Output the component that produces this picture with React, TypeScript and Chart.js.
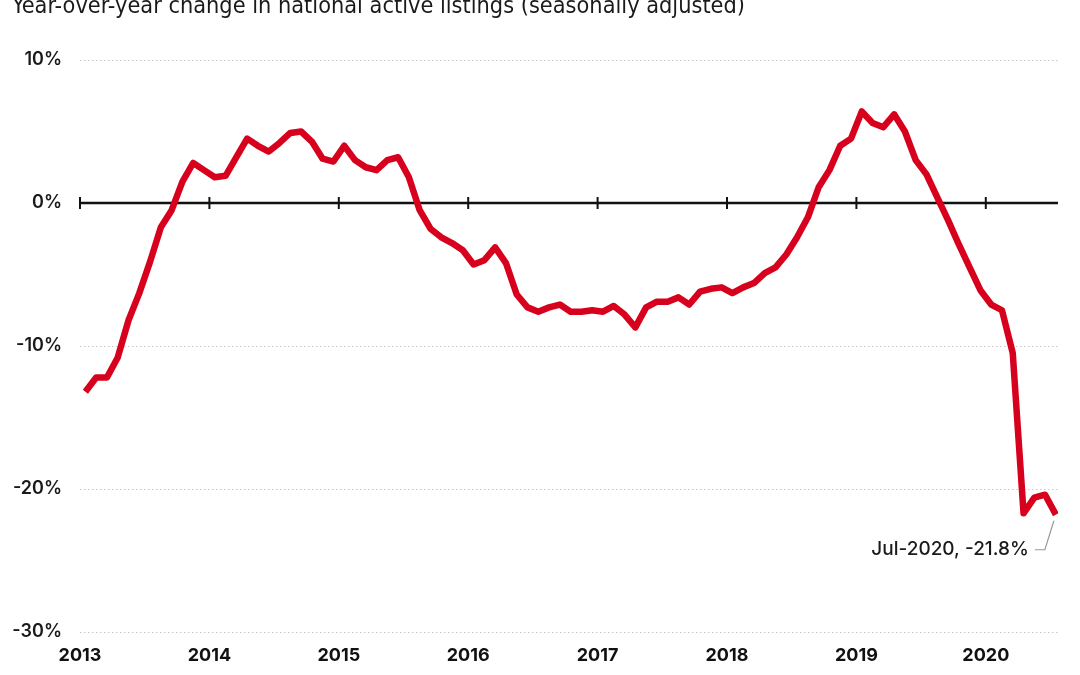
import React, { useEffect, useRef } from "react";
import { Chart, registerables } from "chart.js";

Chart.register(...registerables);

const TITLE = "Year-over-year change in national active listings (seasonally adjusted)";
const START_YEAR = 2013;
const yearTicks = [2013, 2014, 2015, 2016, 2017, 2018, 2019, 2020];
const yTicks = [-30, -20, -10, 0, 10];

const y2013 = [-13.2, -12.2, -12.2, -10.8, -8.2, -6.3, -4.1, -1.7, -0.5, 1.5, 2.8, 2.3];
const y2014 = [1.8, 1.9, 3.2, 4.5, 4.0, 3.6, 4.2, 4.9, 5.0, 4.3, 3.1, 2.9];
const y2015 = [4.0, 3.0, 2.5, 2.3, 3.0, 3.2, 1.8, -0.5, -1.8, -2.4, -2.8, -3.3];
const y2016 = [-4.3, -4.0, -3.1, -4.2, -6.4, -7.3, -7.6, -7.3, -7.1, -7.6, -7.6, -7.5];
const y2017 = [-7.6, -7.2, -7.8, -8.7, -7.3, -6.9, -6.9, -6.6, -7.1, -6.2, -6.0, -5.9];
const y2018 = [-6.3, -5.9, -5.6, -4.9, -4.5, -3.6, -2.4, -1.0, 1.1, 2.3, 4.0, 4.5];
const y2019 = [6.4, 5.6, 5.3, 6.2, 5.0, 3.0, 2.0, 0.4, -1.2, -2.9, -4.5, -6.1];
const y2020 = [-7.1, -7.5, -10.5, -21.7, -20.6, -20.4, -21.8];

const values = [...y2013, ...y2014, ...y2015, ...y2016, ...y2017, ...y2018, ...y2019, ...y2020];
const ANNOTATION = "Jul-2020, -21.8%";

const LABEL_FONT = "Inter, 'Open Sans', sans-serif";

export default function App() {
  const ref = useRef<HTMLCanvasElement | null>(null);

  useEffect(() => {
    if (!ref.current) return;
    const points = values.map((v, i) => ({ x: START_YEAR + (i + 0.5) / 12, y: v }));

    const zeroLinePlugin = {
      id: "zeroLine",
      beforeDatasetsDraw(chart: any) {
        const { ctx, chartArea, scales } = chart;
        const y0 = scales.y.getPixelForValue(0);
        ctx.save();
        ctx.strokeStyle = "#111";
        ctx.lineWidth = 2.5;
        ctx.beginPath();
        ctx.moveTo(chartArea.left, y0);
        ctx.lineTo(chartArea.right, y0);
        ctx.stroke();
        ctx.lineWidth = 2;
        yearTicks.forEach((yr) => {
          const x = scales.x.getPixelForValue(yr);
          ctx.beginPath();
          ctx.moveTo(x, y0 - 6);
          ctx.lineTo(x, y0 + 6);
          ctx.stroke();
        });
        ctx.restore();
      },
    };

    const textPlugin = {
      id: "texts",
      afterDraw(chart: any) {
        const { ctx } = chart;
        ctx.save();
        ctx.font = "23px 'Liberation Sans Narrow', 'DejaVu Sans Condensed', 'Liberation Sans', sans-serif";
        ctx.fillStyle = "#1a1a1a";
        ctx.textBaseline = "alphabetic";
        ctx.textAlign = "left";
        const w = ctx.measureText(TITLE).width;
        const target = 733;
        ctx.translate(12, 13);
        ctx.scale(target / w, 1);
        ctx.fillText(TITLE, 0, 0);
        ctx.restore();

        const meta = chart.getDatasetMeta(0);
        const last = meta.data[meta.data.length - 1];
        if (last) {
          const px = last.x;
          const py = last.y;
          ctx.save();
          ctx.strokeStyle = "#999";
          ctx.lineWidth = 1.2;
          ctx.beginPath();
          ctx.moveTo(px - 21, py + 35);
          ctx.lineTo(px - 11, py + 35);
          ctx.lineTo(px - 2, py + 6);
          ctx.stroke();
          ctx.font = "500 19px " + LABEL_FONT;
          ctx.fillStyle = "#1a1a1a";
          ctx.textAlign = "right";
          ctx.textBaseline = "middle";
          ctx.fillText(ANNOTATION, px - 27, py + 35);
          ctx.restore();
        }
      },
    };

    const chart = new Chart(ref.current, {
      type: "line",
      data: {
        datasets: [
          {
            data: points,
            borderColor: "#d7001d",
            borderWidth: 6.5,
            pointRadius: 0,
            tension: 0,
            borderJoinStyle: "round",
            borderCapStyle: "butt",
            fill: false,
          } as any,
        ],
      },
      options: {
        animation: false,
        responsive: true,
        maintainAspectRatio: false,
        layout: { padding: { top: 60, right: 22, bottom: 0, left: 0 } },
        plugins: {
          legend: { display: false },
          tooltip: { enabled: false },
          title: { display: false },
        },
        scales: {
          x: {
            type: "linear",
            min: START_YEAR,
            max: 2020.558,
            grid: { display: false, drawTicks: false },
            border: { display: false },
            afterBuildTicks: (s: any) => {
              s.ticks = yearTicks.map((v) => ({ value: v }));
            },
            afterFit: (s: any) => {
              s.height = 43;
            },
            ticks: {
              padding: 13,
              maxRotation: 0,
              autoSkip: false,
              color: "#111",
              font: { family: LABEL_FONT, size: 18, weight: "bold" },
              callback: (v: any) => String(v),
            },
          },
          y: {
            type: "linear",
            min: -30,
            max: 10,
            afterBuildTicks: (s: any) => {
              s.ticks = yTicks.map((v) => ({ value: v }));
            },
            afterFit: (s: any) => {
              s.width = 80;
            },
            grid: {
              drawTicks: false,
              lineWidth: 1,
              color: (c: any) => (c.tick && c.tick.value === 0 ? "rgba(0,0,0,0)" : "#c8c8c8"),
            },
            border: { display: false, dash: [1.5, 2.5] },
            ticks: {
              padding: 18,
              color: "#1a1a1a",
              font: { family: LABEL_FONT, size: 18, weight: 600 },
              callback: (v: any) => v + "%",
            },
          },
        },
      },
      plugins: [zeroLinePlugin, textPlugin],
    });
    return () => chart.destroy();
  }, []);

  return (
    <div style={{ position: "fixed", left: 0, top: 0, width: 1080, height: 675, background: "#fff" }}>
      <canvas ref={ref} style={{ width: "100%", height: "100%" }} />
    </div>
  );
}
